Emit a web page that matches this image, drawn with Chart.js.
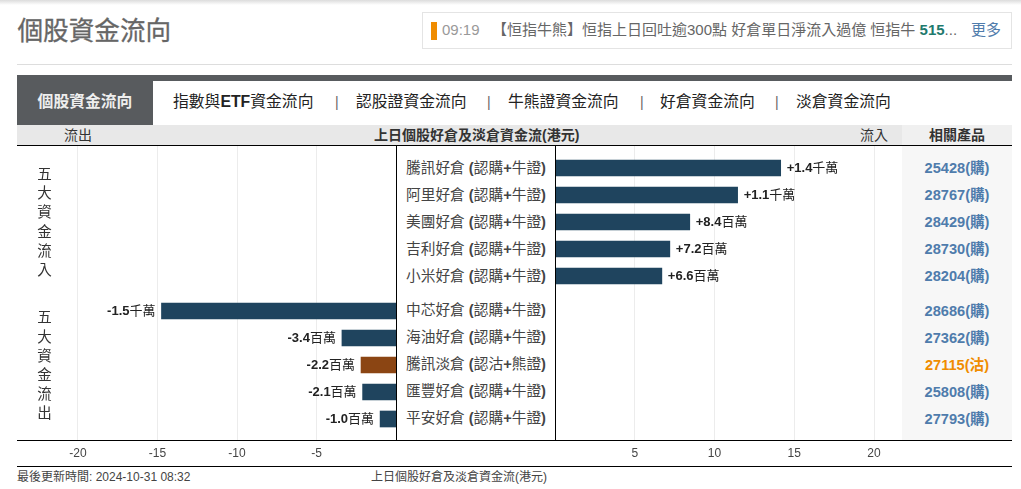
<!DOCTYPE html>
<html>
<head>
<meta charset="utf-8">
<title>個股資金流向</title>
<script src="https://cdn.jsdelivr.net/npm/chart.js@4"></script>
<style>
  html, body { margin: 0; padding: 0; background: #fff; overflow: hidden; }
  body { width: 1021px; height: 489px; position: relative; font-family: "Liberation Sans", "Noto Sans CJK TC", sans-serif; color: #333; }
  .abs { position: absolute; white-space: nowrap; }
  #top-shade { left: 0; top: 0; width: 1021px; height: 5px; background: linear-gradient(#dcdcdc, #fff); }
  #page-title { left: 17.5px; top: 15px; font-size: 25.6px; line-height: 32px; color: #666; -webkit-text-stroke: 0.3px #666; }
  #news { left: 422px; top: 12px; width: 588px; height: 35px; border: 1px solid #e4e4e4; }
  #news-mark { left: 431px; top: 22px; width: 6px; height: 18px; background: #f08c00; }
  .news-text { top: 20px; line-height: 20px; font-size: 15px; color: #666; }
  #rule { left: 17px; top: 64px; width: 995px; height: 1px; background: #ddd; }
  #tab-strip { left: 17px; top: 75px; width: 995px; height: 6px; background: #585b5e; }
  #tab-active { left: 17px; top: 75px; width: 136px; height: 50px; background: #585b5e; color: #eee; font-size: 15.8px; font-weight: bold; line-height: 54px; text-align: center; }
  .tab { top: 92px; font-size: 15.8px; line-height: 20px; color: #222; }
  #head-bar { left: 17px; top: 125px; width: 885px; height: 20px; background: #e8e8e8; }
  #head-side { left: 902px; top: 125px; width: 110px; height: 20px; background: #f0f0f0; }
  .head { top: 126px; line-height: 19px; font-size: 14px; color: #333; }
  #side-col { left: 902px; top: 146px; width: 110px; height: 294px; background: #f7f7f7; }
  #head-line { left: 17px; top: 145px; width: 995px; height: 1px; background: #000; }
  #axis-line { left: 17px; top: 440px; width: 995px; height: 1px; background: #000; }
  #foot-line { left: 17px; top: 466px; width: 995px; height: 1px; background: #000; }
  #mid-left { left: 396px; top: 146px; width: 1px; height: 294px; background: #000; }
  #mid-right { left: 555px; top: 146px; width: 1px; height: 294px; background: #000; }
  canvas { position: absolute; display: block; }
  #outflow-chart { left: 17px; top: 146px; }
  #inflow-chart { left: 555px; top: 146px; }
  .row-text { line-height: 27px; font-size: 14.7px; color: #444; }
  .codes { width: 110px; left: 902px; text-align: center; font-weight: bold; line-height: 27px; font-size: 14.6px; }
  .side-title { left: 37px; width: 15px; text-align: center; font-size: 14.5px; line-height: 19.2px; color: #333; white-space: normal; }
  .foot { top: 470px; font-size: 12px; line-height: 14px; color: #444; }
</style>
</head>
<body>
<div class="abs" id="top-shade"></div>
<div class="abs" id="page-title">個股資金流向</div>
<div class="abs" id="news"></div>
<div class="abs" id="news-mark"></div>
<div class="abs news-text" style="left:442px;color:#999">09:19</div>
<div class="abs news-text" style="left:492px">【恒指牛熊】恒指上日回吐逾300點 好倉單日淨流入過億 恒指牛 <b style="color:#1f7a6e">515</b>...</div>
<div class="abs news-text" style="left:971px;color:#4f7cac">更多</div>
<div class="abs" id="rule"></div>
<div class="abs" id="tab-strip"></div>
<div class="abs" id="tab-active">個股資金流向</div>
<div id="tabs"></div>
<div class="abs" id="head-bar"></div>
<div class="abs" id="head-side"></div>
<div class="abs head" style="left:64px">流出</div>
<div class="abs head" style="left:374px;font-weight:bold">上日個股好倉及淡倉資金流(港元)</div>
<div class="abs head" style="left:860px">流入</div>
<div class="abs head" style="left:902px;width:110px;text-align:center;font-weight:bold">相關產品</div>
<div class="abs" id="side-col"></div>
<canvas id="outflow-chart" width="379" height="320"></canvas>
<canvas id="inflow-chart" width="347" height="320"></canvas>
<div class="abs" id="head-line"></div>
<div class="abs" id="axis-line"></div>
<div class="abs" id="foot-line"></div>
<div class="abs" id="mid-left"></div>
<div class="abs" id="mid-right"></div>
<div class="abs side-title" id="in-title" style="top:165px"></div>
<div class="abs side-title" id="out-title" style="top:308.4px"></div>
<div class="abs row-text" id="in-names" style="left:406px;top:155px"></div>
<div class="abs row-text" id="out-names" style="left:406px;top:297px"></div>
<div class="abs codes" id="in-codes" style="top:155px"></div>
<div class="abs codes" id="out-codes" style="top:298px"></div>
<div class="abs foot" style="left:17px">最後更新時間: 2024-10-31 08:32</div>
<div class="abs foot" style="left:371px">上日個股好倉及淡倉資金流(港元)</div>

<script>
// Values in millions of HKD
const inflowNames = ['騰訊好倉', '阿里好倉', '美團好倉', '吉利好倉', '小米好倉'];
const inflowTypes = ['認購|牛證', '認購|牛證', '認購|牛證', '認購|牛證', '認購|牛證'];
const inflowValues = [14.15, 11.45, 8.45, 7.2, 6.7];
const inflowLabels = ['+1.4千萬', '+1.1千萬', '+8.4百萬', '+7.2百萬', '+6.6百萬'];
const inflowCodes = ['25428(購)', '28767(購)', '28429(購)', '28730(購)', '28204(購)'];

const outflowNames = ['中芯好倉', '海油好倉', '騰訊淡倉', '匯豐好倉', '平安好倉'];
const outflowTypes = ['認購|牛證', '認購|牛證', '認沽|熊證', '認購|牛證', '認購|牛證'];
const outflowValues = [-14.75, -3.4, -2.2, -2.1, -1.0];
const outflowLabels = ['-1.5千萬', '-3.4百萬', '-2.2百萬', '-2.1百萬', '-1.0百萬'];
const outflowCodes = ['28686(購)', '27362(購)', '27115(沽)', '25808(購)', '27793(購)'];

const leftTicks = [-20, -15, -10, -5];
const rightTicks = [5, 10, 15, 20];
const tabNames = ['指數與<b>ETF</b>資金流向', '認股證資金流向', '牛熊證資金流向', '好倉資金流向', '淡倉資金流向'];

const BULL = '#1f445e';
const BEAR = '#8b4513';
const LINK = '#4f7cac';
const PUT = '#f08c00';

// Row slots: the two groups of five sit 8px further apart than the rows (27px)
const ROW_PX = 27;
const GROUP_GAP = 8 / ROW_PX;
const rowSlot = (group, i) => i + (group === 1 ? 5 + GROUP_GAP : 0);

const LEFT_PX_PER_UNIT = 15.9;
const RIGHT_PX_PER_UNIT = 15.95;

// Amount beside each bar: number bold, unit regular
const amountLabels = {
  id: 'amountLabels',
  afterDatasetsDraw(chart, args, opts) {
    const ctx = chart.ctx;
    const meta = chart.getDatasetMeta(0);
    ctx.save();
    ctx.textBaseline = 'middle';
    ctx.fillStyle = '#222';
    meta.data.forEach((bar, i) => {
      const parts = opts.texts[i].match(/^([-+][\d.]+)(.*)$/);
      const boldFont = 'bold 13px "Liberation Sans", "Noto Sans CJK TC"';
      const thinFont = '13px "Liberation Sans", "Noto Sans CJK TC"';
      ctx.font = boldFont;
      const numW = ctx.measureText(parts[1]).width;
      ctx.font = thinFont;
      const unitW = ctx.measureText(parts[2]).width;
      const y = bar.y;
      const x = opts.side > 0 ? bar.x + 6 : bar.x - 6 - numW - unitW;
      ctx.textAlign = 'left';
      ctx.font = boldFont;
      ctx.fillText(parts[1], x, y);
      ctx.font = thinFont;
      ctx.fillText(parts[2], x + numW, y);
    });
    ctx.restore();
  }
};

function makeChart(id, values, group, colors, texts, ticks, min, max, side) {
  return new Chart(document.getElementById(id), {
    type: 'bar',
    plugins: [amountLabels],
    data: {
      datasets: [{
        data: values.map((v, i) => ({ x: v, y: rowSlot(group, i) })),
        backgroundColor: colors,
        borderWidth: 0,
        barThickness: 16
      }]
    },
    options: {
      indexAxis: 'y',
      responsive: false,
      animation: false,
      layout: { padding: 0 },
      plugins: {
        legend: { display: false },
        tooltip: { enabled: false },
        amountLabels: { texts, side }
      },
      scales: {
        x: {
          type: 'linear',
          min,
          max,
          afterBuildTicks: (scale) => { scale.ticks = ticks.map(value => ({ value })); },
          afterFit: (scale) => { scale.height = 26; },
          border: { display: false },
          grid: { color: '#ececec', drawTicks: false },
          ticks: {
            autoSkip: false,
            maxRotation: 0,
            padding: 6,
            color: '#444',
            font: { size: 12, family: '"Liberation Sans"' }
          }
        },
        y: {
          type: 'linear',
          display: false,
          reverse: true,
          offset: false,
          min: -22 / ROW_PX,
          max: (294 - 22) / ROW_PX
        }
      }
    }
  });
}

makeChart('inflow-chart', inflowValues, 0, inflowValues.map(() => BULL), inflowLabels,
  rightTicks, 0, 347 / RIGHT_PX_PER_UNIT, 1);
makeChart('outflow-chart', outflowValues, 1, outflowTypes.map(t => t.startsWith('認沽') ? BEAR : BULL), outflowLabels,
  leftTicks, -379 / LEFT_PX_PER_UNIT, 0, -1);

// Text around the plots
const tabLefts = [173, 356, 508, 660, 796];
const tabSeps = [335, 487, 640, 775];
document.getElementById('tabs').innerHTML =
  tabNames.map((t, i) => `<div class="abs tab" style="left:${tabLefts[i]}px">${t}</div>`).join('') +
  tabSeps.map(x => `<div class="abs tab" style="left:${x}px;color:#666;font-size:14px">|</div>`).join('');

function nameRows(names, types) {
  return names.map((n, i) => {
    const [a, b] = types[i].split('|');
    return `<div>${n} <b>(</b>${a}<b>+</b>${b}<b>)</b></div>`;
  }).join('');
}
document.getElementById('in-names').innerHTML = nameRows(inflowNames, inflowTypes);
document.getElementById('out-names').innerHTML = nameRows(outflowNames, outflowTypes);

function codeRows(codes) {
  return codes.map(c => `<div style="color:${c.includes('沽') ? PUT : LINK}">${c}</div>`).join('');
}
document.getElementById('in-codes').innerHTML = codeRows(inflowCodes);
document.getElementById('out-codes').innerHTML = codeRows(outflowCodes);

document.getElementById('in-title').innerHTML = [...'五大資金流入'].join('<br>');
document.getElementById('out-title').innerHTML = [...'五大資金流出'].join('<br>');
</script>
</body>
</html>
